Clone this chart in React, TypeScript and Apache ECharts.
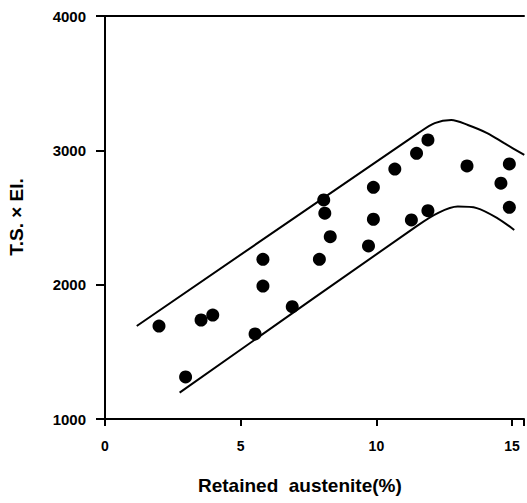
import React, { useEffect, useRef } from "react";
import * as echarts from "echarts";

// Measured specimens: retained austenite (%) vs. T.S. × El.
const austenite = [1.99, 2.97, 3.54, 3.97, 5.53, 5.82, 5.82, 6.9, 7.9, 8.06, 8.1, 8.3, 9.71, 9.89, 9.89, 10.68, 11.29, 11.48, 11.9, 11.9, 13.34, 14.59, 14.9, 14.9];
const tsEl = [1692, 1313, 1737, 1774, 1633, 1990, 2189, 1836, 2189, 2631, 2532, 2357, 2288, 2487, 2725, 2861, 2482, 2978, 3077, 2551, 2884, 2755, 2899, 2576];

// Upper and lower envelope of the scatter band
const upperX = [1.17, 11.54, 12.15, 12.76, 13.37, 14.1, 14.71, 15.45];
const upperY = [1692, 3128, 3203, 3226, 3189, 3127, 3053, 2966];
const lowerX = [2.75, 11.5, 12.3, 13.0, 13.7, 14.47, 15.08];
const lowerY = [1196, 2438, 2537, 2581, 2570, 2494, 2407];

const xTicks = [0, 5, 10, 15];
const yTicks = [1000, 2000, 3000, 4000];

const FONT = "'Liberation Sans', Arial, Helvetica, sans-serif";

export default function App() {
  const ref = useRef<HTMLDivElement>(null);

  useEffect(() => {
    if (!ref.current) return;
    const chart = echarts.init(ref.current, null, { renderer: "svg" });
    const pts = austenite.map((x, i) => [x, tsEl[i]]);
    const up = upperX.map((x, i) => [x, upperY[i]]);
    const lo = lowerX.map((x, i) => [x, lowerY[i]]);

    chart.setOption({
      animation: false,
      backgroundColor: "#ffffff",
      grid: { left: 105, top: 16, right: 0, bottom: 84, containLabel: false },
      xAxis: [
        {
          type: "value",
          min: 0,
          max: 15.44,
          interval: 5,
          splitLine: { show: false },
          axisLine: { show: true, lineStyle: { color: "#000", width: 2 } },
          axisTick: { show: true, inside: false, length: 7, lineStyle: { color: "#000", width: 2 } },
          axisLabel: {
            margin: 20,
            color: "#000",
            fontFamily: FONT,
            fontWeight: "bold",
            fontSize: 14,
            showMaxLabel: true,
            formatter: (v: number) => (xTicks.includes(v) ? String(v) : ""),
          },
        },
        {
          type: "value",
          position: "top",
          min: 0,
          max: 15.44,
          axisLine: { show: true, onZero: false, lineStyle: { color: "#000", width: 2 } },
          axisTick: { show: false },
          axisLabel: { show: false },
          splitLine: { show: false },
        },
      ],
      yAxis: {
        type: "value",
        min: 1000,
        max: 4000,
        interval: 1000,
        splitLine: { show: false },
        axisLine: { show: true, onZero: false, lineStyle: { color: "#000", width: 2 } },
        axisTick: { show: true, inside: false, length: 9, lineStyle: { color: "#000", width: 2 } },
        axisLabel: {
          margin: 19,
          color: "#000",
          fontFamily: FONT,
          fontWeight: "bold",
          fontSize: 15,
          formatter: (v: number) => (yTicks.includes(v) ? String(v) : ""),
        },
      },
      series: [
        {
          type: "line",
          data: up,
          smooth: 0.3,
          symbol: "none",
          lineStyle: { color: "#000", width: 2 },
          z: 2,
        },
        {
          type: "line",
          data: lo,
          smooth: 0.3,
          symbol: "none",
          lineStyle: { color: "#000", width: 2 },
          z: 2,
        },
        {
          type: "scatter",
          data: pts,
          symbol: "circle",
          symbolSize: 13,
          itemStyle: { color: "#000", opacity: 1 },
          z: 3,
        },
      ],
      graphic: [
        {
          type: "text",
          left: 198,
          top: 476,
          style: {
            text: "Retained  austenite(%)",
            fill: "#000",
            font: `bold 19px ${FONT}`,
          },
        },
        {
          type: "text",
          x: 16,
          y: 217,
          rotation: Math.PI / 2,
          style: {
            text: "T.S. × El.",
            fill: "#000",
            font: `bold 19px ${FONT}`,
            align: "center",
            verticalAlign: "middle",
          },
        },
      ],
    });

    return () => chart.dispose();
  }, []);

  return (
    <div
      ref={ref}
      style={{ position: "absolute", left: 0, top: 0, width: 527, height: 503 }}
    />
  );
}
